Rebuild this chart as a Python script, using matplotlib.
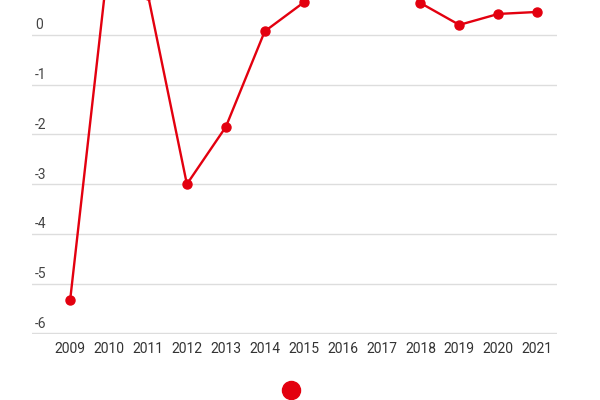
import matplotlib
matplotlib.use("Agg")
import matplotlib.pyplot as plt
from matplotlib.lines import Line2D

years = ["2009", "2010", "2011", "2012", "2013", "2014", "2015",
         "2016", "2017", "2018", "2019", "2020", "2021"]
values = [-5.33, 1.6, 0.8, -3.0, -1.85, 0.07, 0.65, 1.3, 1.7, 0.64, 0.2, 0.42, 0.46]
yticks = [0, -1, -2, -3, -4, -5, -6]

RED = "#e3000f"
plt.rcParams["font.family"] = ["Roboto", "DejaVu Sans"]

fig = plt.figure(figsize=(6, 4), dpi=100)
ax = fig.add_axes([32/600, (400-333.5)/400, (557-32)/600, 333.5/400])

x = list(range(len(years)))
ax.plot(x, values, color=RED, lw=1.7, marker="o", ms=6.5, clip_on=False, zorder=3)

ax.set_xlim(-0.98, 12.51)
ax.set_ylim(-6, 0.7)

for t in yticks:
    ax.axhline(t, color="#dddddd", lw=1, zorder=1)
    ax.text(0.006, t + 0.05, f"{t}", transform=ax.get_yaxis_transform(),
            ha="left", va="bottom", fontsize=10, color="#444444")

ax.set_xticks(x)
ax.set_xticklabels(years, fontsize=10, color="#333333")
ax.tick_params(axis="x", length=0, pad=6)
ax.set_yticks([])
for s in ax.spines.values():
    s.set_visible(False)

handle = Line2D([], [], color=RED, marker="o", ms=13, lw=0)
fig.legend([handle], [" "], loc="center", bbox_to_anchor=(0.49, (400 - 391) / 400),
           frameon=False, handletextpad=0.2, borderaxespad=0)

fig.savefig("out.png", dpi=100)
